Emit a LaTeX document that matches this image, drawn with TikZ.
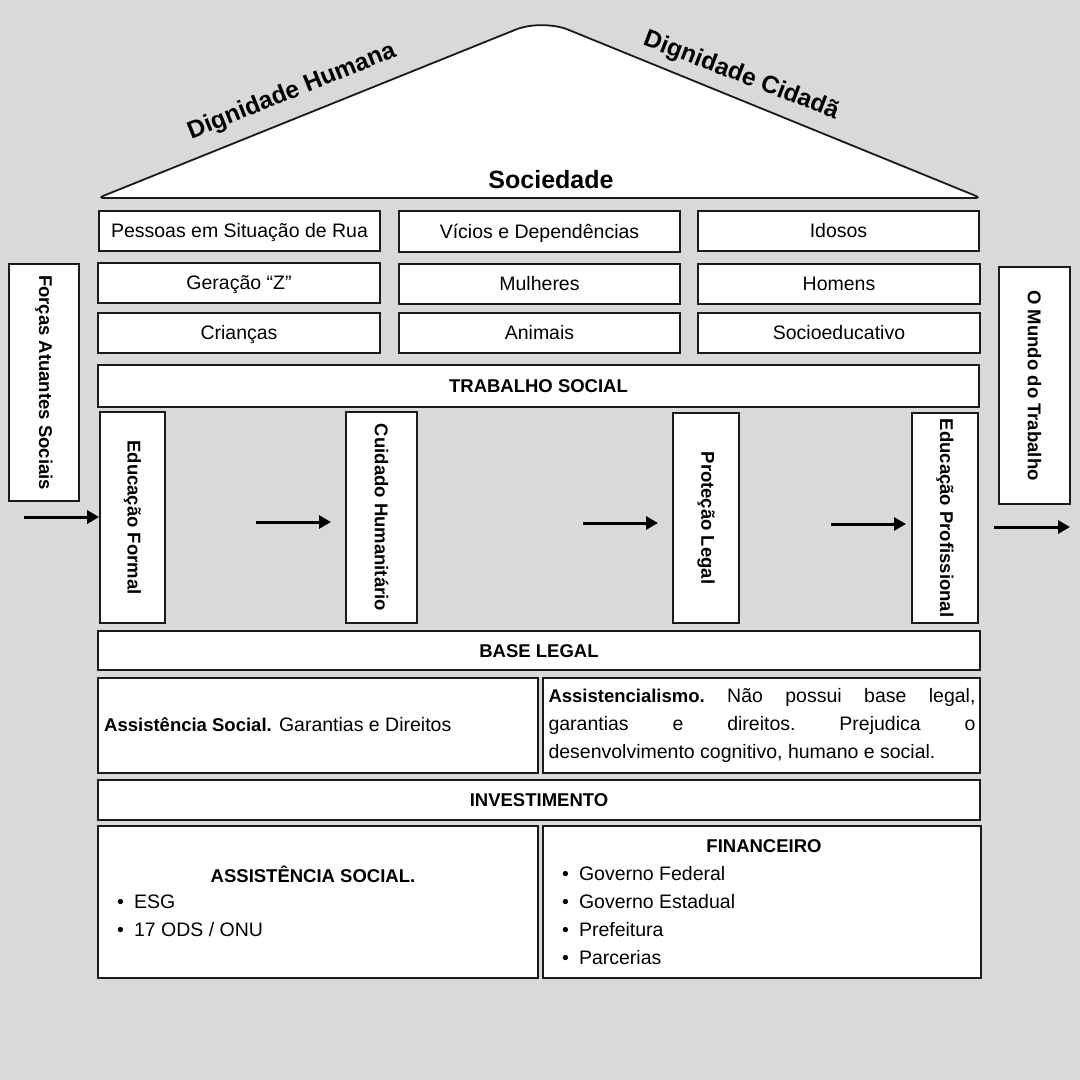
\documentclass[tikz,border=0pt]{standalone}
\usepackage{fontspec}
\setmainfont{Liberation Sans}
\usetikzlibrary{arrows.meta}
\definecolor{bg}{HTML}{D9D9D9}
\definecolor{ln}{HTML}{1A1A1A}
\begin{document}
\begin{tikzpicture}[x=1pt,y=-1pt,
  box/.style={draw=ln, line width=1.7pt, fill=white, inner sep=0pt, text height=13.5pt, text depth=0pt},
  txt/.style={font=\fontsize{19.5}{23}\selectfont},
  btxt/.style={font=\fontsize{18.5}{22}\selectfont\bfseries},
  vlab/.style={rotate=-90, font=\fontsize{18.5}{22}\selectfont\bfseries},
  arr/.style={line width=3pt, -{Triangle[length=12pt,width=13pt]}},
  item/.style={anchor=west, font=\fontsize{19.5}{23}\selectfont, inner sep=0pt}]
\fill[bg] (0,0) rectangle (1080,1080);
\useasboundingbox (0,0) rectangle (1080,1080);
% roof
\draw[draw=ln, line width=1.8pt, fill=white, rounded corners=6pt] (540,198) -- (98,198) [rounded corners=28pt] -- (542,19) [rounded corners=6pt] -- (981,198) -- cycle;
\node[font=\fontsize{24.5}{28}\selectfont\bfseries, rotate=22] (dh) at (292,92) {Dignidade Humana};
\node[font=\fontsize{24.5}{28}\selectfont\bfseries, rotate=-21] (dc) at (741,76) {Dignidade Cidadã};
\node[font=\fontsize{25}{30}\selectfont\bfseries] (soc) at (551,180) {Sociedade};
% row 1
\node[box, txt, minimum width=281pt, minimum height=40pt] (r11) at (239.5,231) {Pessoas em Situação de Rua};
\node[box, txt, minimum width=281pt, minimum height=41pt] (r12) at (539.5,231.5) {Vícios e Dependências};
\node[box, txt, minimum width=281pt, minimum height=40pt] (r13) at (838.5,231) {Idosos};
% row 2
\node[box, txt, minimum width=282pt, minimum height=40pt] (r21) at (239,283) {Geração “Z”};
\node[box, txt, minimum width=281pt, minimum height=40pt] (r22) at (539.5,284) {Mulheres};
\node[box, txt, minimum width=282pt, minimum height=40pt] (r23) at (839,284) {Homens};
% row 3
\node[box, txt, minimum width=282pt, minimum height=40pt] (r31) at (239,333) {Crianças};
\node[box, txt, minimum width=281pt, minimum height=40pt] (r32) at (539.5,333) {Animais};
\node[box, txt, minimum width=282pt, minimum height=40pt] (r33) at (839,333) {Socioeducativo};
% trabalho social
\node[box, btxt, minimum width=881pt, minimum height=42pt] (ts) at (538.5,386) {TRABALHO SOCIAL};
% pillars
\node[box, minimum width=65pt, minimum height=211pt] (ef) at (132.5,517.5) {};
\node[vlab] (efl) at (ef) {Educação Formal};
\node[box, minimum width=71pt, minimum height=211pt] (ch) at (381.5,517.5) {};
\node[vlab] (chl) at (ch) {Cuidado Humanitário};
\node[box, minimum width=66pt, minimum height=210pt] (pl) at (706,518) {};
\node[vlab] (pll) at (pl) {Proteção Legal};
\node[box, minimum width=66pt, minimum height=210pt] (ep) at (945,518) {};
\node[vlab] (epl) at (ep) {Educação Profissional};
% side boxes
\node[box, minimum width=70pt, minimum height=237pt] (fas) at (44,382.5) {};
\node[vlab] (fasl) at (fas) {Forças Atuantes Sociais};
\node[box, minimum width=71pt, minimum height=237pt] (mt) at (1034.5,385.5) {};
\node[vlab] (mtl) at (mt) {O Mundo do Trabalho};
% arrows
\coordinate (a1s) at (24,517);
\coordinate (a2s) at (256,522);
\coordinate (a2e) at (331,522);
\coordinate (a3s) at (583,523);
\coordinate (a3e) at (658,523);
\coordinate (a4s) at (831,524);
\coordinate (a4e) at (906,524);
\coordinate (a5s) at (994,527);
\coordinate (a5e) at (1070,527);
\draw[arr] (a1s) -- (ef.west |- a1s);
\draw[arr] (a2s) -- (a2e);
\draw[arr] (a3s) -- (a3e);
\draw[arr] (a4s) -- (a4e);
\draw[arr] (a5s) -- (a5e);
% base legal
\node[box, btxt, minimum width=882pt, minimum height=39pt] (bl) at (539,650.5) {BASE LEGAL};
\node[box, minimum width=440pt, minimum height=95pt] (as) at (318,725.5) {};
\node[item] (ast) at (104,725) {\textbf{\fontsize{18.5}{22}\selectfont Assistência Social.} Garantias e Direitos};
\node[box, minimum width=437pt, minimum height=95pt] (al) at (761.5,725.5) {};
\node[font=\fontsize{19.5}{28}\selectfont, text width=427pt, align=justify, inner sep=0pt] (alt) at (762,725) {\frenchspacing\textbf{\fontsize{18.5}{28}\selectfont Assistencialismo.} Não possui base legal,\linebreak garantias e direitos. Prejudica o\linebreak desenvolvimento cognitivo, humano e social.};
% investimento
\node[box, btxt, minimum width=882pt, minimum height=40pt] (inv) at (539,800) {INVESTIMENTO};
\node[box, minimum width=440pt, minimum height=152pt] (bl1) at (318,902) {};
\node[btxt] (ash) at (313,874) {ASSISTÊNCIA SOCIAL.};
\node[item] (i1) at (117,902) {\textbullet\hspace{10pt}ESG};
\node[item] (i2) at (117,930) {\textbullet\hspace{10pt}17 ODS / ONU};
\node[box, minimum width=438pt, minimum height=152pt] (br) at (762,902) {};
\node[btxt] (fin) at (764,846) {FINANCEIRO};
\node[item] (f1) at (562,874) {\textbullet\hspace{10pt}Governo Federal};
\node[item] (f2) at (562,902) {\textbullet\hspace{10pt}Governo Estadual};
\node[item] (f3) at (562,930) {\textbullet\hspace{10pt}Prefeitura};
\node[item] (f4) at (562,958) {\textbullet\hspace{10pt}Parcerias};
\end{tikzpicture}
\end{document}
